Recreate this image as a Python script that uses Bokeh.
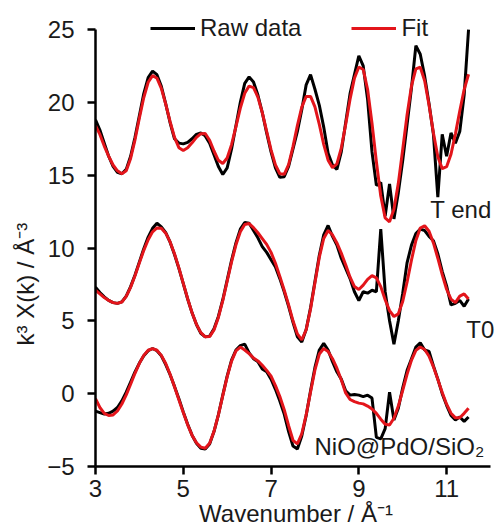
from bokeh.plotting import figure
from bokeh.models import Range1d, Legend, LegendItem, Label, FixedTicker, Title
from bokeh.embed import file_html
from bokeh.resources import INLINE

# ---- data ----
k = [3.0, 3.1, 3.2, 3.3, 3.4, 3.5, 3.6, 3.7, 3.8, 3.9,
     4.0, 4.1, 4.2, 4.3, 4.4, 4.5, 4.6, 4.7, 4.8, 4.9,
     5.0, 5.1, 5.2, 5.3, 5.4, 5.5, 5.6, 5.7, 5.8, 5.9,
     6.0, 6.1, 6.2, 6.3, 6.4, 6.5, 6.6, 6.7, 6.8, 6.9,
     7.0, 7.1, 7.2, 7.3, 7.4, 7.5, 7.6, 7.7, 7.8, 7.9,
     8.0, 8.1, 8.2, 8.3, 8.4, 8.5, 8.6, 8.7, 8.8, 8.9,
     9.0, 9.1, 9.2, 9.3, 9.4, 9.5, 9.6, 9.7, 9.8, 9.9,
     10.0, 10.1, 10.2, 10.3, 10.4, 10.5, 10.6, 10.7, 10.8, 10.9,
     11.0, 11.1, 11.2, 11.3, 11.4, 11.5]

tend_raw = [18.8, 18.1, 17.2, 16.3, 15.6, 15.2, 15.1, 15.4, 16.3, 17.6,
            19.1, 20.6, 21.7, 22.15, 21.9, 21.1, 19.9, 18.6, 17.5, 17.2,
            17.15, 17.25, 17.5, 17.8, 17.9, 17.7, 17.2, 16.4, 15.6, 15.05,
            15.5, 16.8, 18.4, 20.0, 21.3, 21.75, 21.4, 20.5, 19.3, 17.9,
            16.6, 15.5, 14.85, 14.9, 15.6, 16.8, 18.0, 19.5, 21.2, 21.9,
            20.9, 19.8, 18.3, 16.5, 15.7, 15.4, 16.6, 18.6, 20.6, 21.9,
            23.2, 22.5, 20.2, 16.6, 14.3, 14.5, 12.2, 14.4, 12.0, 13.8,
            16.0, 18.5, 21.0, 23.9, 23.3, 21.8, 19.9, 17.8, 13.5, 17.8,
            16.3, 17.9, 17.2, 18.0, 20.5, 25.0]
tend_fit = [18.4, 17.8, 17.0, 16.3, 15.7, 15.3, 15.1, 15.3, 16.15, 17.43,
            18.93, 20.33, 21.38, 21.84, 21.66, 20.96, 19.88, 18.67, 17.59, 16.89,
            16.7, 16.88, 17.22, 17.6, 17.85, 17.86, 17.4, 16.66, 16.02, 15.8,
            16.18, 17.1, 18.34, 19.61, 20.62, 21.12, 21.01, 20.36, 19.3, 18.01,
            16.74, 15.71, 15.1, 15.06, 15.73, 16.96, 18.4, 19.67, 20.4, 20.41,
            19.69, 18.48, 17.12, 16.03, 15.52, 15.78, 16.85, 18.48, 20.22, 21.66,
            22.43, 22.26, 20.88, 18.57, 15.93, 13.57, 12.07, 11.8, 12.66, 14.44,
            16.76, 19.15, 21.13, 22.3, 22.41, 21.49, 19.82, 17.89, 16.27, 15.45,
            15.58, 16.44, 17.82, 19.41, 20.88, 21.93]

t0_raw = [7.3, 6.95, 6.65, 6.4, 6.25, 6.2, 6.3, 6.7, 7.35, 8.15,
          9.05, 9.95, 10.75, 11.35, 11.7, 11.45, 11.05, 10.4, 9.55, 8.6,
          7.55, 6.5, 5.55, 4.75, 4.15, 3.9, 3.95, 4.45, 5.3, 6.45,
          7.8, 9.15, 10.35, 11.3, 11.75, 11.7, 11.2, 10.7, 10.1, 9.7,
          9.2, 8.7, 7.9, 7.0, 6.0, 4.9, 3.9, 3.55, 4.4, 5.9,
          7.7, 9.5, 10.9, 11.55, 10.8, 10.2, 9.3, 8.6, 7.9, 7.0,
          6.4, 7.0, 6.9, 7.1, 7.0, 11.3, 7.0, 5.0, 3.4, 5.0,
          6.9, 9.0, 10.2, 11.0, 11.3, 11.2, 10.8, 10.5, 9.6, 8.4,
          7.4, 6.1, 6.2, 6.4, 6.0, 6.5]
t0_fit = [7.1, 6.85, 6.6, 6.4, 6.25, 6.2, 6.29, 6.68, 7.3, 8.1,
          8.98, 9.84, 10.57, 11.11, 11.38, 11.35, 11.02, 10.42, 9.6, 8.64,
          7.57, 6.52, 5.56, 4.76, 4.19, 3.9, 3.92, 4.38, 5.23, 6.39,
          7.72, 9.04, 10.22, 11.12, 11.61, 11.68, 11.4, 11.05, 10.65, 10.25,
          9.7, 8.95, 8.05, 7.1, 6.1, 5.0, 4.1, 3.7, 4.39, 5.81,
          7.61, 9.37, 10.66, 11.2, 10.9, 10.35, 9.65, 8.85, 8.0, 7.35,
          7.15, 7.45, 7.85, 8.1, 7.95, 7.35, 6.45, 5.7, 5.3, 5.48,
          6.33, 7.67, 9.18, 10.52, 11.37, 11.53, 11.15, 10.35, 9.3, 8.17,
          7.17, 6.49, 6.25, 6.7, 6.85, 6.5]

nio_raw = [-1.2, -1.3, -1.4, -1.35, -1.2, -0.95, -0.5, 0.1, 0.8, 1.5,
           2.1, 2.6, 2.95, 3.1, 2.95, 2.6, 2.0, 1.3, 0.5, -0.35,
           -1.25, -2.1, -2.85, -3.4, -3.75, -3.8, -3.45, -2.6, -1.45, -0.1,
           1.2, 2.3, 3.0, 3.3, 3.4, 2.8, 2.4, 2.2, 1.7, 1.5,
           1.0, 0.3, -0.5, -1.4, -2.6, -3.6, -3.8, -2.9, -1.5, 0.2,
           1.8, 3.0, 3.45, 3.0, 2.2, 1.5, 1.0, 0.2, -0.1, -0.05,
           -0.1, -0.2, -0.1, -0.3, -3.0, -3.1, -2.4, 0.1, -1.8, -1.0,
           0.4, 1.6, 2.4, 3.2, 3.5, 3.0, 2.9, 1.9, 1.0, 0.0,
           -0.8, -1.5, -1.8, -1.6, -1.9, -1.6]
nio_fit = [-0.35, -0.95, -1.35, -1.5, -1.46, -1.19, -0.71, -0.08, 0.65, 1.4,
           2.08, 2.63, 2.98, 3.1, 2.98, 2.63, 2.07, 1.33, 0.48, -0.41,
           -1.3, -2.14, -2.85, -3.37, -3.67, -3.75, -3.4, -2.59, -1.45, -0.14,
           1.15, 2.23, 2.94, 3.2, 3.0, 2.75, 2.45, 2.25, 1.95, 1.6,
           1.2, 0.55, -0.2, -1.1, -2.2, -3.2, -3.45, -2.75, -1.46, 0.12,
           1.63, 2.72, 3.1, 2.9, 2.4, 1.75, 0.95, 0.05, -0.4, -0.55,
           -0.65, -0.7, -0.85, -1.05, -1.35, -1.75, -2.1, -2.15, -1.69, -0.85,
           0.22, 1.34, 2.31, 2.97, 3.2, 3.03, 2.57, 1.84, 0.98, 0.08,
           -0.72, -1.34, -1.66, -1.65, -1.35, -1.0]

x_ticks = [3, 5, 7, 9, 11]
y_ticks = [-5, 0, 5, 10, 15, 20, 25]
series_labels = ["Raw data", "Fit"]
curve_names = ["T end", "T0", "NiO@PdO/SiO\u2082"]
x_title = "Wavenumber / \u00c5\u207b\u00b9"
y_title = "k\u00b3 \u03a7(k) / \u00c5\u207b\u00b3"

FONT = "Liberation Sans"
RED = "#E3151B"
TXT = "#1a1a1a"

p = figure(width=496, height=531, x_range=Range1d(3, 12.137), y_range=Range1d(-5, 26.65),
           output_backend="svg", toolbar_location=None,
           min_border_left=95, min_border_right=0, min_border_top=5, min_border_bottom=65)
p.outline_line_color = None
p.background_fill_color = "white"
p.border_fill_color = "white"
p.xgrid.visible = False
p.ygrid.visible = False

p.xaxis.ticker = FixedTicker(ticks=x_ticks)
p.yaxis.ticker = FixedTicker(ticks=y_ticks)
p.xaxis.bounds = (3, 12)
p.yaxis.bounds = (-5, 25)
for ax in (p.xaxis[0], p.yaxis[0]):
    ax.axis_line_width = 2.5
    ax.axis_line_color = "black"
    ax.major_tick_line_width = 2.5
    ax.major_tick_line_color = "black"
    ax.major_tick_out = 8
    ax.major_tick_in = 0
    ax.minor_tick_line_color = None
    ax.major_label_text_font = FONT
    ax.major_label_text_font_size = "24px"
    ax.major_label_text_color = TXT
p.xaxis.major_label_standoff = 5
p.yaxis.major_label_standoff = 13
p.xaxis.axis_label = x_title
p.xaxis.axis_label_standoff = 0
p.xaxis.axis_label_text_font = FONT
p.xaxis.axis_label_text_font_size = "24px"
p.xaxis.axis_label_text_font_style = "normal"
p.xaxis.axis_label_text_color = TXT

p.add_layout(Title(text=y_title, align="left", offset=121, vertical_align="middle",
                   standoff=10, text_font=FONT, text_font_size="24px",
                   text_font_style="normal", text_color=TXT), "left")

r_raw = None
r_fit = None
for raw in (tend_raw, t0_raw, nio_raw):
    r = p.line(k, raw, line_color="black", line_width=3)
    r_raw = r_raw or r
for fit in (tend_fit, t0_fit, nio_fit):
    r = p.line(k, fit, line_color=RED, line_width=3)
    r_fit = r_fit or r

legend = Legend(items=[LegendItem(label=series_labels[0], renderers=[r_raw]),
                       LegendItem(label=series_labels[1], renderers=[r_fit])],
                orientation="horizontal", location=(55, 424),
                border_line_color=None, background_fill_alpha=0,
                label_text_font=FONT, label_text_font_size="24px",
                label_text_color=TXT,
                glyph_width=45, glyph_height=24, label_standoff=5,
                spacing=50, padding=0, margin=0)
p.add_layout(legend, "center")

for name, (lx, ly) in zip(curve_names, [(10.63, 12.65), (11.45, 4.4), (7.99, -3.6)]):
    p.add_layout(Label(x=lx, y=ly, text=name, text_font=FONT, text_font_size="24px",
                       text_color=TXT, text_align="left", text_baseline="middle"))

open("out.html", "w").write(file_html(p, INLINE))
